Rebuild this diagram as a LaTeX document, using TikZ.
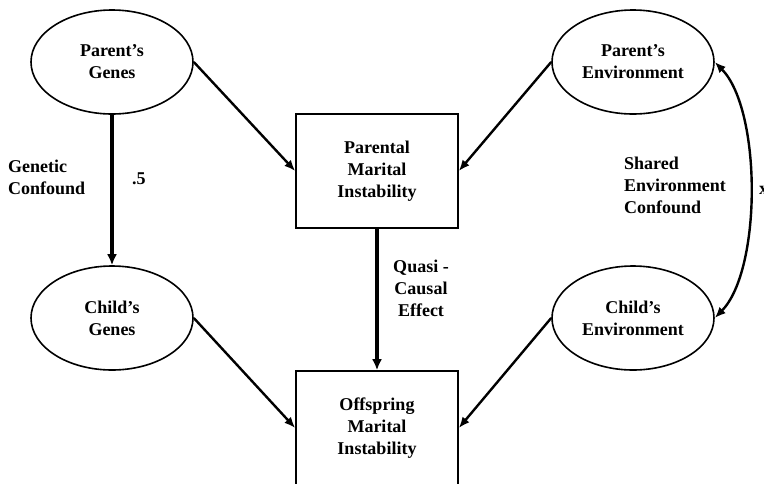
\documentclass[tikz,border=0pt]{standalone}
\usepackage{fontspec}
\setmainfont{Liberation Serif}
\usetikzlibrary{shapes.geometric,arrows.meta}
\begin{document}
\begin{tikzpicture}[x=1pt,y=1pt,
  txt/.style={font=\fontsize{18}{22}\selectfont\bfseries, align=center},
  oval/.style={ellipse, draw, line width=1.6pt, minimum width=162pt, minimum height=104pt, inner sep=0pt, txt},
  rbox/.style={rectangle, draw, line width=1.6pt, minimum width=162pt, minimum height=114pt, inner sep=0pt, txt},
  thin arrow/.style={line width=2.4pt, -{Latex[length=11pt,width=9pt]}},
  thick arrow/.style={line width=3.6pt, -{Latex[length=11pt,width=10pt]}},
  lbl/.style={font=\fontsize{18}{22}\selectfont\bfseries, align=left, inner sep=0pt}
]
\useasboundingbox (0,0) rectangle (764,-483);
\clip (0,0) rectangle (764,-483);
\node[oval] (pg) at (112,-62) {Parent’s\\Genes};
\node[oval] (pe) at (633,-62) {Parent’s\\Environment};
\node[oval] (cg) at (112,-318) {Child’s\\Genes};
\node[oval] (ce) at (633,-318) {Child’s\\Environment};
\node[rbox] (pmi) at (377,-171) {Parental\\Marital\\Instability};
\node[rbox] (omi) at (377,-428) {Offspring\\Marital\\Instability};

\draw[thin arrow] (pg.east) -- (pmi.west);
\draw[thin arrow] (pe.west) -- (pmi.east);
\draw[thin arrow] (cg.east) -- (omi.west);
\draw[thin arrow] (ce.west) -- (omi.east);
\draw[thick arrow] (pg.south) -- (cg.north);
\draw[thick arrow] (pmi.south) -- (omi.north);
\draw[line width=2.4pt, {Latex[length=11pt,width=9pt]}-{Latex[length=11pt,width=9pt]}]
  (pe.east) .. controls +(47,-48) and +(47,48) .. (ce.east);

\node[lbl, anchor=north west] (gc) at (8,-160) {Genetic\\Confound};
\node[lbl, anchor=north west] (half) at (132,-173) {.5};
\node[lbl, anchor=north, align=center] (qc) at (421,-260) {Quasi -\\Causal\\Effect};
\node[lbl, anchor=north west] (sec) at (624,-157) {Shared\\Environment\\Confound};
\node[lbl, anchor=west] (xx) at (759,-190) {x};
\end{tikzpicture}
\end{document}
